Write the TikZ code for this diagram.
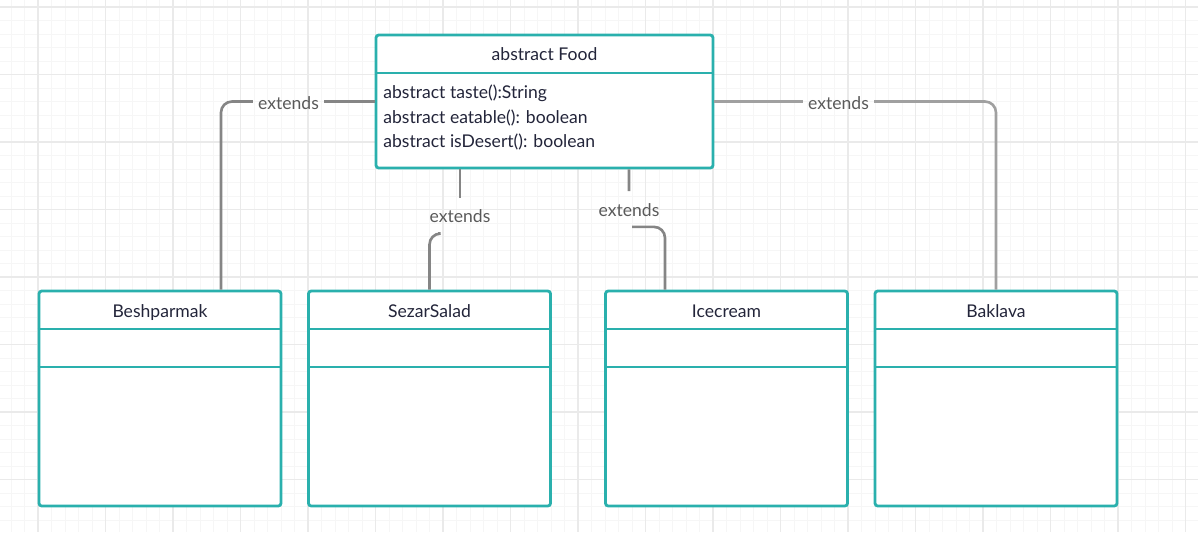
\documentclass[tikz,border=0pt]{standalone}
\usepackage{fontspec}
\setmainfont{Lato}
\usepackage{tikz}
\usetikzlibrary{calc,positioning}
\definecolor{umlteal}{HTML}{2AB0AD}
\definecolor{umlink}{HTML}{23253A}
\definecolor{linkgray}{HTML}{858585}
\definecolor{linkgraylight}{HTML}{A0A0A0}
\definecolor{gridminor}{HTML}{F6F6F6}
\definecolor{gridmajor}{HTML}{EAEAEA}
\tikzset{
  classbox/.style={draw=umlteal,line width=1.6pt,fill=white,rounded corners=1.5pt,inner sep=0pt},
  classline/.style={umlteal,line width=1.6pt},
  classtitle/.style={font=\fontsize{10}{12}\selectfont,text=umlink,anchor=base,inner sep=0pt},
  methtext/.style={font=\fontsize{10}{12}\selectfont,text=umlink,anchor=base west,inner sep=0pt},
  extline/.style={linkgray,line width=1.5pt,rounded corners=0.22cm},
  extlabel/.style={font=\fontsize{10}{12}\selectfont,text=black!65,anchor=base,inner xsep=0.1cm,inner ysep=0.14cm,text height=0.35cm,text depth=0.07cm},
  minorline/.style={gridminor,line width=0.45pt},
  majorline/.style={gridmajor,line width=0.8pt}
}
\begin{document}
\begin{tikzpicture}[x=0.02cm,y=-0.02cm]
\useasboundingbox (0,0) rectangle (1198,532);
% grid
\foreach \i in {0,...,89}{\draw[minorline] ({-2.5+13.5*\i},0)--++(0,532);}
\foreach \i in {0,...,39}{\draw[minorline] (0,{-6.5+13.5*\i})--++(1198,0);}
\foreach \i in {0,...,17}{\draw[majorline] ({38+67.5*\i},0)--++(0,532);}
\foreach \i in {0,...,7}{\draw[majorline] (0,{7+67.5*\i})--++(1198,0);}
% abstract class
\node[classbox,minimum width=6.74cm,minimum height=2.66cm] (food) at (544.5,101.5) {};
\draw[classline] (food.west |- 0,73)--(food.east |- 0,73);
\node[classtitle] (food-t) at (544.5,60.7) {abstract Food};
\foreach \m [count=\i] in {abstract taste():String,abstract eatable(): boolean,abstract isDesert(): boolean}{
  \node[methtext] (m\i) at (383,{73.8+24.6*\i}) {\m};}
% subclasses
\foreach \n/\x/\t in {besh/160/Beshparmak,sezar/429.5/SezarSalad,ice/726.5/Icecream,bakl/996/Baklava}{
  \node[classbox,minimum width=4.84cm,minimum height=4.3cm] (\n) at (\x,398.5) {};
  \draw[classline] (\n.west |- 0,329)--(\n.east |- 0,329);
  \draw[classline] (\n.west |- 0,367)--(\n.east |- 0,367);
  \node[classtitle] (\n-t) at (\x,317.3) {\t};
}
% extends links
\node[extlabel] (lblA) at (288.5,109.3) {extends};
\draw[extline] (food.west)--(food.west -| lblA.east);
\draw[extline] (lblA.west |- food.west) -| ($(besh.north)+(61,0)$);
\node[extlabel] (lblB) at (460,222.7) {extends};
\draw[extline] ($(food.south)+(-84.5,0)$)--(lblB.north);
\draw[extline] ($(lblB.south)+(-22,0)$) -| (sezar.north);
\node[extlabel] (lblC) at (629,216) {extends};
\draw[extline] ($(food.south)+(84.5,0)$)--(lblC.north);
\draw[extline] ($(lblC.south)+(3,0)$) -| ($(ice.north)+(-61.5,0)$);
\node[extlabel] (lblD) at (838.5,109.3) {extends};
\draw[extline,linkgraylight] (food.east)--(food.east -| lblD.west);
\draw[extline,linkgraylight] (lblD.east |- food.east) -| (bakl.north);
\end{tikzpicture}
\end{document}
